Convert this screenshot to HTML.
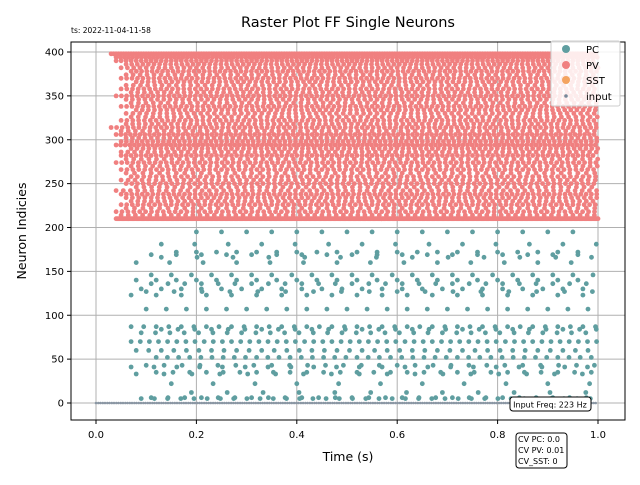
<!DOCTYPE html>
<html><head><meta charset="utf-8"><style>
body{margin:0;background:#fff;font-family:"Liberation Sans","DejaVu Sans",sans-serif}
svg text{font-family:"DejaVu Sans","Liberation Sans",sans-serif}
</style></head><body>
<svg id="c" width="640" height="480" xmlns="http://www.w3.org/2000/svg">
<rect width="640" height="480" fill="#fff"/>
<text x="348" y="27" text-anchor="middle" font-size="14.5">Raster Plot FF Single Neurons</text>
<text x="71" y="33" font-size="7.5">ts: 2022-11-04-11-58</text>
<g id="grid"></g>
<g id="marks"></g>
<rect x="71" y="42" width="554" height="378" fill="none" stroke="#000" stroke-width="1"/>
<g id="axes"></g>
<text x="348" y="461" text-anchor="middle" font-size="12.5">Time (s)</text>
<text transform="translate(26,231) rotate(-90)" text-anchor="middle" font-size="12.5">Neuron Indicies</text>
<g>
<rect x="551" y="41" width="69" height="65" rx="2" fill="#fff" fill-opacity="0.85" stroke="#ccc"/>
<g><circle cx="566" cy="49" r="4" fill="#5f9ea0"/><text x="586" y="53" font-size="10">PC</text></g>
<g><circle cx="566" cy="65" r="4" fill="#f08080"/><text x="586" y="69" font-size="10">PV</text></g>
<g><circle cx="566" cy="80" r="4" fill="#f4a460"/><text x="586" y="84" font-size="10">SST</text></g>
<g><circle cx="566" cy="96" r="1.8" fill="#778899"/><text x="586" y="100" font-size="10">input</text></g>
</g>
<g><rect x="510" y="397" width="81" height="14" rx="3" fill="#fff" stroke="#000"/><text x="550" y="407.5" text-anchor="middle" font-size="8">Input Freq: 223 Hz</text></g>
<g><rect x="516" y="433" width="51" height="35" rx="3" fill="#fff" stroke="#000"/>
<text x="518" y="442" font-size="8">CV PC: 0.0</text><text x="518" y="453" font-size="8">CV PV: 0.01</text><text x="518" y="464" font-size="8">CV_SST: 0</text></g>
</svg>
<script>
const xTicks=[0,0.2,0.4,0.6,0.8,1.0];
const xTickLabels=["0.0","0.2","0.4","0.6","0.8","1.0"];
const yTicks=[0,50,100,150,200,250,300,350,400];
const pcIdx=[5,6,12,22,33,35,41,43,52,60,70,80,84,87,107,123,127,130,136,140,146,160,166,169,172,181,195];
const pcRate=[38,30,14,12,18,30,22,28,45,40,55,35,30,40,25,20,18,25,30,25,25,15,14,20,25,15,20];
const pcOnset=[0.09,0.11,0.19,0.15,0.08,0.12,0.07,0.1,0.12,0.08,0.07,0.09,0.13,0.07,0.1,0.07,0.1,0.09,0.11,0.08,0.11,0.08,0.13,0.11,0.16,0.13,0.2];
const pvIdx=[210,214,218,222,226,230,234,238,242,246,250,254,258,262,266,270,274,278,282,286,290,294,298,302,306,310,314,318,322,326,330,334,338,342,346,350,354,358,362,366,370,374,378,382,386,390,394,398];
const pvRate=[400,70,85,60,90,75,80,95,70,65,88,72,80,60,85,70,90,66,100,75,85,110,95,80,105,70,90,78,86,70,74,82,92,68,80,95,76,88,70,84,92,72,96,80,90,100,120,200];
const pvOnset=[0.04,0.05,0.04,0.06,0.05,0.07,0.06,0.05,0.04,0.08,0.06,0.05,0.07,0.06,0.05,0.07,0.04,0.06,0.05,0.05,0.07,0.04,0.05,0.06,0.04,0.05,0.03,0.06,0.05,0.07,0.06,0.08,0.05,0.07,0.06,0.04,0.07,0.05,0.06,0.08,0.05,0.06,0.07,0.05,0.06,0.04,0.04,0.03];
const inputRate=223;
const X=v=>96+v*502, Y=v=>403-v*0.8775;
const NS="http://www.w3.org/2000/svg";
const grid=document.getElementById('grid'),axes=document.getElementById('axes'),marks=document.getElementById('marks');
function mk(t,a,p){const e=document.createElementNS(NS,t);for(const k in a)e.setAttribute(k,a[k]);p.appendChild(e);return e;}
xTicks.forEach((t,i)=>{
 const g=mk('line',{x1:X(t),x2:X(t),y1:42,y2:420,stroke:'#b0b0b0','stroke-width':1},grid);
 
 
 mk('line',{x1:X(t),x2:X(t),y1:420,y2:424,stroke:'#000'},axes);
 const l=mk('text',{x:X(t),y:438,'text-anchor':'middle','font-size':10},axes);l.textContent=xTickLabels[i];
 
 
});
yTicks.forEach(t=>{
 const g=mk('line',{x1:71,x2:625,y1:Y(t),y2:Y(t),stroke:'#b0b0b0','stroke-width':1},grid);
 
 
 mk('line',{x1:67,x2:71,y1:Y(t),y2:Y(t),stroke:'#000'},axes);
 const l=mk('text',{x:64,y:Y(t)+3.5,'text-anchor':'end','font-size':10},axes);l.textContent=t;
 
 
});
function draw(idx,rate,onset,color,name){
 const g=mk('g',{fill:color},marks);
 
 
 idx.forEach((n,i)=>{for(let t=onset[i];t<=1.0;t+=1/rate[i])mk('circle',{cx:X(t).toFixed(1),cy:Y(n).toFixed(1),r:2.4},g);});
}
draw(pvIdx,pvRate,pvOnset,'#f08080','pv-spikes');
draw(pcIdx,pcRate,pcOnset,'#5f9ea0','pc-spikes');
const ig=mk('g',{fill:'#8a96a3'},marks);


for(let t=0;t<=1;t+=1/inputRate)mk('circle',{cx:X(t).toFixed(1),cy:Y(0),r:1.3},ig);
</script>
</body></html>
